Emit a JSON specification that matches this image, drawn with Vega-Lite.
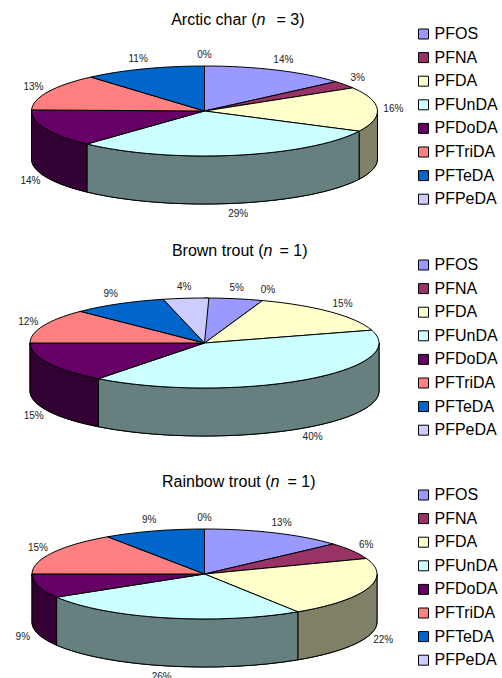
{"$schema":"https://vega.github.io/schema/vega-lite/v6.json","padding":{"left":0.5,"top":12,"right":0,"bottom":0},"background":"white","spacing":59,"bounds":"flush","config":{"view":{"stroke":null},"text":{"font":"Liberation Sans"},"legend":{"title":null,"orient":"none","symbolType":"square","symbolSize":100,"symbolStrokeColor":"#000","symbolStrokeWidth":1,"labelFont":"Liberation Sans","labelFontSize":16,"labelColor":"#000","labelOffset":3,"rowPadding":7.6,"labelLimit":120}},"resolve":{"scale":{"color":"independent"}},"datasets":{"pfas":[{"species":"Arctic char","compound":"PFOS","order":1,"pct":13.7},{"species":"Arctic char","compound":"PFNA","order":2,"pct":2.7},{"species":"Arctic char","compound":"PFDA","order":3,"pct":16},{"species":"Arctic char","compound":"PFUnDA","order":4,"pct":29.49},{"species":"Arctic char","compound":"PFDoDA","order":5,"pct":13.5},{"species":"Arctic char","compound":"PFTriDA","order":6,"pct":13.2},{"species":"Arctic char","compound":"PFTeDA","order":7,"pct":11.41},{"species":"Arctic char","compound":"PFPeDA","order":8,"pct":0},{"species":"Brown trout","compound":"PFOS","order":1,"pct":5.4},{"species":"Brown trout","compound":"PFNA","order":2,"pct":0},{"species":"Brown trout","compound":"PFDA","order":3,"pct":15},{"species":"Brown trout","compound":"PFUnDA","order":4,"pct":40},{"species":"Brown trout","compound":"PFDoDA","order":5,"pct":14.6},{"species":"Brown trout","compound":"PFTriDA","order":6,"pct":12.4},{"species":"Brown trout","compound":"PFTeDA","order":7,"pct":8.8},{"species":"Brown trout","compound":"PFPeDA","order":8,"pct":4.2},{"species":"Rainbow trout","compound":"PFOS","order":1,"pct":13.4},{"species":"Rainbow trout","compound":"PFNA","order":2,"pct":6},{"species":"Rainbow trout","compound":"PFDA","order":3,"pct":21.5},{"species":"Rainbow trout","compound":"PFUnDA","order":4,"pct":25.5},{"species":"Rainbow trout","compound":"PFDoDA","order":5,"pct":8.62},{"species":"Rainbow trout","compound":"PFTriDA","order":6,"pct":15.49},{"species":"Rainbow trout","compound":"PFTeDA","order":7,"pct":9.49},{"species":"Rainbow trout","compound":"PFPeDA","order":8,"pct":0}]},"vconcat":[
{"width":408,"height":174,"data":{"name":"pfas"},"transform":[{"filter":"datum.species==='Arctic char'"},{"window":[{"op":"sum","field":"pct","as":"cum"}],"sort":[{"field":"order"}]},{"calculate":"173","as":"rx"},{"calculate":"format(datum.pct,'.0f')+'%'","as":"label"},{"calculate":"(datum.cum-datum.pct)*PI/50","as":"a0"},{"calculate":"datum.cum*PI/50","as":"a1"},{"calculate":"(datum.a0+datum.a1)/2","as":"am"},{"calculate":"'M0,0L'+round(100*datum.rx*sin(datum.a0))/100+','+round(-4500*cos(datum.a0))/100+'A'+datum.rx+',45 0 '+(datum.a1-datum.a0>PI?1:0)+' 1 '+round(100*datum.rx*sin(datum.a1))/100+','+round(-4500*cos(datum.a1))/100+'Z'","as":"topPath"},{"calculate":"max(datum.a0,PI/2)","as":"ta"},{"calculate":"min(datum.a1,3*PI/2)","as":"tb"},{"calculate":"'M'+round(100*datum.rx*sin(datum.ta))/100+','+round(-4500*cos(datum.ta))/100+'A'+datum.rx+',45 0 0 1 '+round(100*datum.rx*sin(datum.tb))/100+','+round(-4500*cos(datum.tb))/100+'L'+round(100*datum.rx*sin(datum.tb))/100+','+(round(-4500*cos(datum.tb))/100+48)+'A'+datum.rx+',45 0 0 0 '+round(100*datum.rx*sin(datum.ta))/100+','+(round(-4500*cos(datum.ta))/100+48)+'Z'","as":"rimPath"},{"calculate":"(datum.rx+16)*sin(datum.am)","as":"lx"},{"calculate":"-56*cos(datum.am)+(cos(datum.am)<0?48:0)","as":"ly"}],"layer":[
{"transform":[{"filter":"datum.tb>datum.ta"}],"mark":{"type":"point","filled":true,"opacity":1,"size":4,"stroke":"#000","strokeWidth":1,"color":"#000"},"encoding":{"shape":{"field":"rimPath","type":"nominal","scale":null,"legend":null}}},
{"transform":[{"filter":"datum.tb>datum.ta"}],"mark":{"type":"point","filled":true,"opacity":1,"fillOpacity":0.5,"size":4,"stroke":"#000","strokeWidth":1},"encoding":{"shape":{"field":"rimPath","type":"nominal","scale":null,"legend":null},"color":{"field":"compound","type":"nominal","scale":{"domain":["PFOS","PFNA","PFDA","PFUnDA","PFDoDA","PFTriDA","PFTeDA","PFPeDA"],"range":["#9999FF","#993366","#FFFFCC","#CCFFFF","#660066","#FF8080","#0066CC","#CCCCFF"]},"legend":{"legendX":415,"legendY":2}}}},
{"transform":[{"filter":"datum.pct>0"}],"mark":{"type":"point","filled":true,"opacity":1,"size":4,"stroke":"#000","strokeWidth":1},"encoding":{"shape":{"field":"topPath","type":"nominal","scale":null,"legend":null},"color":{"field":"compound","type":"nominal","scale":{"domain":["PFOS","PFNA","PFDA","PFUnDA","PFDoDA","PFTriDA","PFTeDA","PFPeDA"],"range":["#9999FF","#993366","#FFFFCC","#CCFFFF","#660066","#FF8080","#0066CC","#CCCCFF"]},"legend":{"legendX":415,"legendY":2}}}},
{"mark":{"type":"text","fontSize":10,"color":"#222"},"encoding":{"x":{"field":"lx","type":"quantitative","scale":{"domain":[-204,204],"nice":false,"zero":false},"axis":null},"y":{"field":"ly","type":"quantitative","scale":{"domain":[-87,87],"nice":false,"zero":false,"reverse":true},"axis":null},"text":{"field":"label"}}},
{"data":{"values":[{"t":"Arctic char ("}]},"mark":{"type":"text","fontSize":16,"align":"right","dx":52,"dy":-91},"encoding":{"text":{"field":"t"}}},
{"data":{"values":[{"t":"n"}]},"mark":{"type":"text","fontSize":16,"fontStyle":"italic","align":"left","dx":52,"dy":-91},"encoding":{"text":{"field":"t"}}},
{"data":{"values":[{"t":"= 3)"}]},"mark":{"type":"text","fontSize":16,"align":"left","dx":72,"dy":-91},"encoding":{"text":{"field":"t"}}}
]},
{"width":408,"height":172,"data":{"name":"pfas"},"transform":[{"filter":"datum.species==='Brown trout'"},{"window":[{"op":"sum","field":"pct","as":"cum"}],"sort":[{"field":"order"}]},{"calculate":"174.5","as":"rx"},{"calculate":"format(datum.pct,'.0f')+'%'","as":"label"},{"calculate":"(datum.cum-datum.pct)*PI/50","as":"a0"},{"calculate":"datum.cum*PI/50","as":"a1"},{"calculate":"(datum.a0+datum.a1)/2","as":"am"},{"calculate":"'M0,0L'+round(100*datum.rx*sin(datum.a0))/100+','+round(-4500*cos(datum.a0))/100+'A'+datum.rx+',45 0 '+(datum.a1-datum.a0>PI?1:0)+' 1 '+round(100*datum.rx*sin(datum.a1))/100+','+round(-4500*cos(datum.a1))/100+'Z'","as":"topPath"},{"calculate":"max(datum.a0,PI/2)","as":"ta"},{"calculate":"min(datum.a1,3*PI/2)","as":"tb"},{"calculate":"'M'+round(100*datum.rx*sin(datum.ta))/100+','+round(-4500*cos(datum.ta))/100+'A'+datum.rx+',45 0 0 1 '+round(100*datum.rx*sin(datum.tb))/100+','+round(-4500*cos(datum.tb))/100+'L'+round(100*datum.rx*sin(datum.tb))/100+','+(round(-4500*cos(datum.tb))/100+48)+'A'+datum.rx+',45 0 0 0 '+round(100*datum.rx*sin(datum.ta))/100+','+(round(-4500*cos(datum.ta))/100+48)+'Z'","as":"rimPath"},{"calculate":"(datum.rx+16)*sin(datum.am)","as":"lx"},{"calculate":"-56*cos(datum.am)+(cos(datum.am)<0?48:0)","as":"ly"}],"layer":[
{"transform":[{"filter":"datum.tb>datum.ta"}],"mark":{"type":"point","filled":true,"opacity":1,"size":4,"stroke":"#000","strokeWidth":1,"color":"#000"},"encoding":{"shape":{"field":"rimPath","type":"nominal","scale":null,"legend":null}}},
{"transform":[{"filter":"datum.tb>datum.ta"}],"mark":{"type":"point","filled":true,"opacity":1,"fillOpacity":0.5,"size":4,"stroke":"#000","strokeWidth":1},"encoding":{"shape":{"field":"rimPath","type":"nominal","scale":null,"legend":null},"color":{"field":"compound","type":"nominal","scale":{"domain":["PFOS","PFNA","PFDA","PFUnDA","PFDoDA","PFTriDA","PFTeDA","PFPeDA"],"range":["#9999FF","#993366","#FFFFCC","#CCFFFF","#660066","#FF8080","#0066CC","#CCCCFF"]},"legend":{"legendX":415,"legendY":0}}}},
{"transform":[{"filter":"datum.pct>0"}],"mark":{"type":"point","filled":true,"opacity":1,"size":4,"stroke":"#000","strokeWidth":1},"encoding":{"shape":{"field":"topPath","type":"nominal","scale":null,"legend":null},"color":{"field":"compound","type":"nominal","scale":{"domain":["PFOS","PFNA","PFDA","PFUnDA","PFDoDA","PFTriDA","PFTeDA","PFPeDA"],"range":["#9999FF","#993366","#FFFFCC","#CCFFFF","#660066","#FF8080","#0066CC","#CCCCFF"]},"legend":{"legendX":415,"legendY":0}}}},
{"mark":{"type":"text","fontSize":10,"color":"#222"},"encoding":{"x":{"field":"lx","type":"quantitative","scale":{"domain":[-204,204],"nice":false,"zero":false},"axis":null},"y":{"field":"ly","type":"quantitative","scale":{"domain":[-86,86],"nice":false,"zero":false,"reverse":true},"axis":null},"text":{"field":"label"}}},
{"data":{"values":[{"t":"Brown trout ("}]},"mark":{"type":"text","fontSize":16,"align":"right","dx":59,"dy":-92},"encoding":{"text":{"field":"t"}}},
{"data":{"values":[{"t":"n"}]},"mark":{"type":"text","fontSize":16,"fontStyle":"italic","align":"left","dx":59,"dy":-92},"encoding":{"text":{"field":"t"}}},
{"data":{"values":[{"t":"= 1)"}]},"mark":{"type":"text","fontSize":16,"align":"left","dx":75,"dy":-92},"encoding":{"text":{"field":"t"}}}
]},
{"width":408,"height":172,"data":{"name":"pfas"},"transform":[{"filter":"datum.species==='Rainbow trout'"},{"window":[{"op":"sum","field":"pct","as":"cum"}],"sort":[{"field":"order"}]},{"calculate":"172.5","as":"rx"},{"calculate":"format(datum.pct,'.0f')+'%'","as":"label"},{"calculate":"(datum.cum-datum.pct)*PI/50","as":"a0"},{"calculate":"datum.cum*PI/50","as":"a1"},{"calculate":"(datum.a0+datum.a1)/2","as":"am"},{"calculate":"'M0,0L'+round(100*datum.rx*sin(datum.a0))/100+','+round(-4500*cos(datum.a0))/100+'A'+datum.rx+',45 0 '+(datum.a1-datum.a0>PI?1:0)+' 1 '+round(100*datum.rx*sin(datum.a1))/100+','+round(-4500*cos(datum.a1))/100+'Z'","as":"topPath"},{"calculate":"max(datum.a0,PI/2)","as":"ta"},{"calculate":"min(datum.a1,3*PI/2)","as":"tb"},{"calculate":"'M'+round(100*datum.rx*sin(datum.ta))/100+','+round(-4500*cos(datum.ta))/100+'A'+datum.rx+',45 0 0 1 '+round(100*datum.rx*sin(datum.tb))/100+','+round(-4500*cos(datum.tb))/100+'L'+round(100*datum.rx*sin(datum.tb))/100+','+(round(-4500*cos(datum.tb))/100+48)+'A'+datum.rx+',45 0 0 0 '+round(100*datum.rx*sin(datum.ta))/100+','+(round(-4500*cos(datum.ta))/100+48)+'Z'","as":"rimPath"},{"calculate":"(datum.rx+16)*sin(datum.am)","as":"lx"},{"calculate":"-56*cos(datum.am)+(cos(datum.am)<0?48:0)","as":"ly"}],"layer":[
{"transform":[{"filter":"datum.tb>datum.ta"}],"mark":{"type":"point","filled":true,"opacity":1,"size":4,"stroke":"#000","strokeWidth":1,"color":"#000"},"encoding":{"shape":{"field":"rimPath","type":"nominal","scale":null,"legend":null}}},
{"transform":[{"filter":"datum.tb>datum.ta"}],"mark":{"type":"point","filled":true,"opacity":1,"fillOpacity":0.5,"size":4,"stroke":"#000","strokeWidth":1},"encoding":{"shape":{"field":"rimPath","type":"nominal","scale":null,"legend":null},"color":{"field":"compound","type":"nominal","scale":{"domain":["PFOS","PFNA","PFDA","PFUnDA","PFDoDA","PFTriDA","PFTeDA","PFPeDA"],"range":["#9999FF","#993366","#FFFFCC","#CCFFFF","#660066","#FF8080","#0066CC","#CCCCFF"]},"legend":{"legendX":415,"legendY":-1}}}},
{"transform":[{"filter":"datum.pct>0"}],"mark":{"type":"point","filled":true,"opacity":1,"size":4,"stroke":"#000","strokeWidth":1},"encoding":{"shape":{"field":"topPath","type":"nominal","scale":null,"legend":null},"color":{"field":"compound","type":"nominal","scale":{"domain":["PFOS","PFNA","PFDA","PFUnDA","PFDoDA","PFTriDA","PFTeDA","PFPeDA"],"range":["#9999FF","#993366","#FFFFCC","#CCFFFF","#660066","#FF8080","#0066CC","#CCCCFF"]},"legend":{"legendX":415,"legendY":-1}}}},
{"mark":{"type":"text","fontSize":10,"color":"#222"},"encoding":{"x":{"field":"lx","type":"quantitative","scale":{"domain":[-204,204],"nice":false,"zero":false},"axis":null},"y":{"field":"ly","type":"quantitative","scale":{"domain":[-86,86],"nice":false,"zero":false,"reverse":true},"axis":null},"text":{"field":"label"}}},
{"data":{"values":[{"t":"Rainbow trout ("}]},"mark":{"type":"text","fontSize":16,"align":"right","dx":66,"dy":-92},"encoding":{"text":{"field":"t"}}},
{"data":{"values":[{"t":"n"}]},"mark":{"type":"text","fontSize":16,"fontStyle":"italic","align":"left","dx":66,"dy":-92},"encoding":{"text":{"field":"t"}}},
{"data":{"values":[{"t":"= 1)"}]},"mark":{"type":"text","fontSize":16,"align":"left","dx":83,"dy":-92},"encoding":{"text":{"field":"t"}}}
]}
]}
